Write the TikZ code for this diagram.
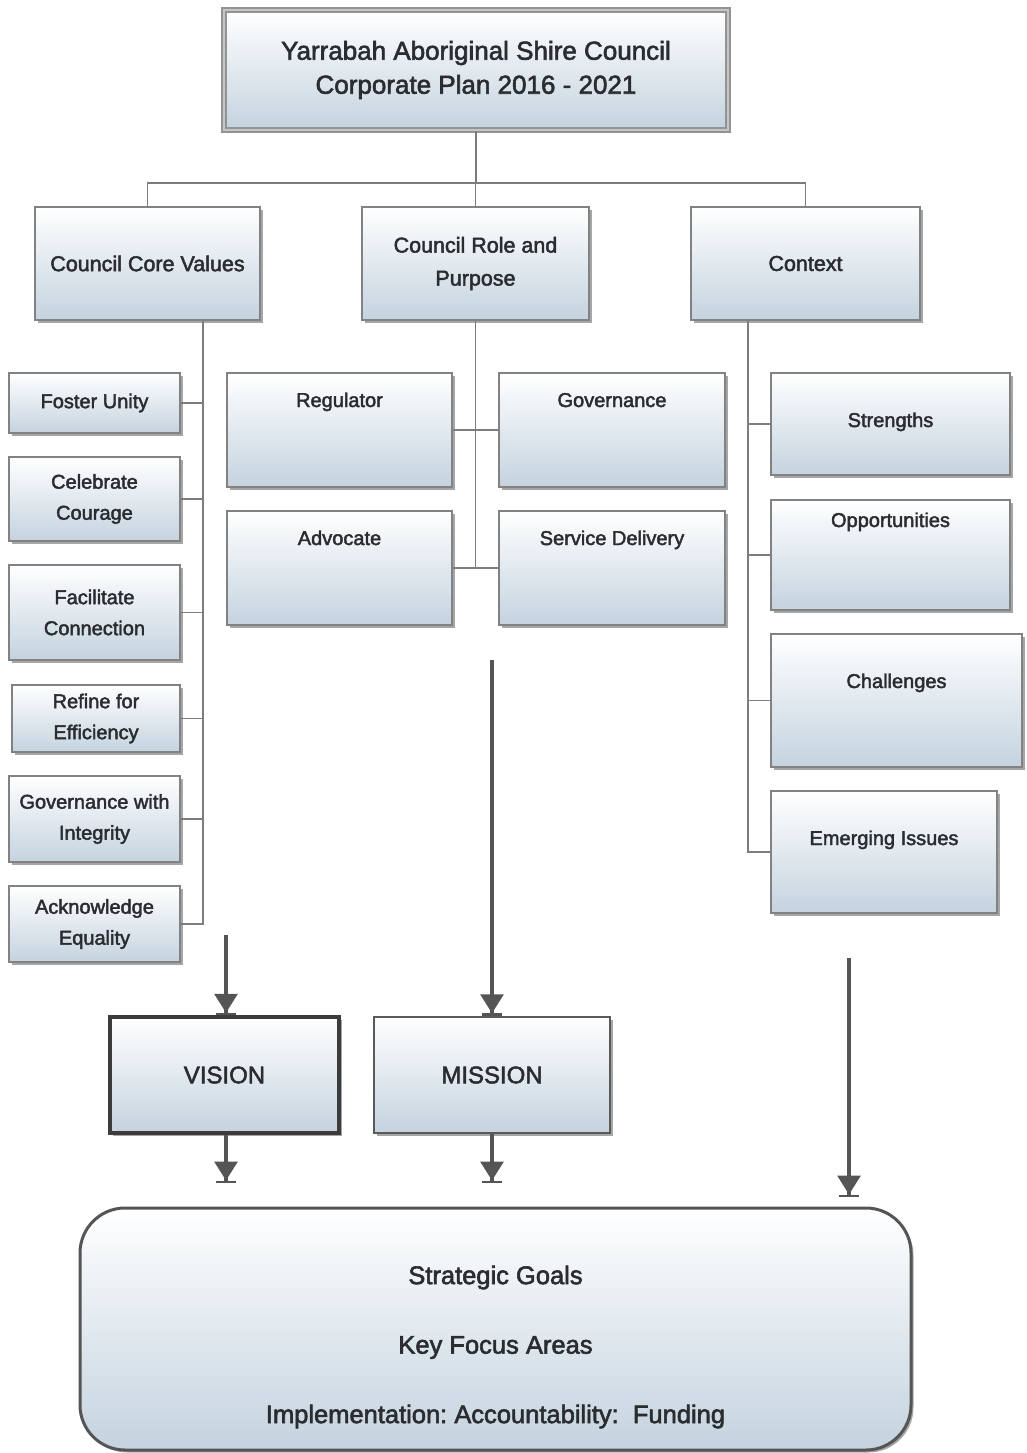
\documentclass[tikz,border=0pt]{standalone}
\usepackage{fontspec}
\setmainfont{Liberation Sans}[FakeBold=2.2]
\usetikzlibrary{arrows.meta,shadows}
\definecolor{boxbot}{RGB}{196,211,223}
\definecolor{txt}{RGB}{42,44,48}
\definecolor{lin}{RGB}{125,125,125}
\definecolor{bord}{RGB}{130,130,130}
\definecolor{arrc}{RGB}{85,85,85}
\frenchspacing
\begin{document}
\begin{tikzpicture}[x=1pt,y=-1pt,
  box/.style={draw=bord, line width=1.6pt, top color=white, bottom color=boxbot,
    text=txt, align=center, inner sep=0pt,
    drop shadow={shadow xshift=2.5pt, shadow yshift=-2.5pt, opacity=0.35, fill=black}},
  topt/.style 2 args={text height=#1pt, text depth=#2pt},
  fa/.style={font=\fontsize{26}{34}\selectfont},
  fb/.style={font=\fontsize{21.5}{33}\selectfont},
  fc/.style={font=\fontsize{20}{31}\selectfont},
  fd/.style={font=\fontsize{24}{30}\selectfont},
  conn/.style={draw=lin, line width=1.5pt},
  arrow/.style={draw=arrc, line width=3.2pt,
    -{Triangle[length=19pt,width=23pt]Bar[width=20pt,line width=2.5pt]}},
]
\useasboundingbox (0,0) rectangle (1027,1453);

% title
\node[box, fa, minimum width=504pt, minimum height=120pt, draw=gray!85, line width=1.6pt,
      double=gray!45, double distance=2.5pt] (top) at (476,70)
  {Yarrabah Aboriginal Shire Council\\Corporate Plan 2016 - 2021};

% level 2
\node[box, fb, minimum width=225pt, minimum height=113pt] (cv) at (147.5,263.5) {Council Core Values};
\node[box, fb, minimum width=227pt, minimum height=113pt] (role) at (475.5,263.5) {Council Role and\\Purpose};
\node[box, fb, minimum width=229pt, minimum height=113pt] (ctx) at (805.5,263.5) {Context};

% core values
\node[box, fc, minimum width=171pt, minimum height=60pt] (fu) at (94.5,403) {Foster Unity};
\node[box, fc, minimum width=171pt, minimum height=84pt] (cc) at (94.5,499) {Celebrate\\Courage};
\node[box, fc, minimum width=171pt, minimum height=95pt] (fcn) at (94.5,612.5) {Facilitate\\Connection};
\node[box, fc, minimum width=168pt, minimum height=67pt] (re) at (96,718.5) {Refine for\\Efficiency};
\node[box, fc, minimum width=171pt, minimum height=86pt] (gi) at (94.5,819) {Governance with\\Integrity};
\node[box, fc, minimum width=171pt, minimum height=76pt] (ae) at (94.5,924) {Acknowledge\\Equality};

% role
\node[box, fc, topt={34}{80}, minimum width=225pt, minimum height=114pt] (reg) at (339.5,430) {Regulator};
\node[box, fc, topt={34}{80}, minimum width=226pt, minimum height=114pt] (gov) at (612,430) {Governance};
\node[box, fc, topt={34}{80}, minimum width=225pt, minimum height=114pt] (adv) at (339.5,568) {Advocate};
\node[box, fc, topt={34}{80}, minimum width=226pt, minimum height=114pt] (sd) at (612,568) {Service Delivery};

% context
\node[box, fc, topt={54}{48}, minimum width=239pt, minimum height=102pt] (st) at (890.5,424) {Strengths};
\node[box, fc, topt={27}{83}, minimum width=239pt, minimum height=110pt] (op) at (890.5,555) {Opportunities};
\node[box, fc, topt={54}{79}, minimum width=251pt, minimum height=133pt] (ch) at (896.5,700.5) {Challenges};
\node[box, fc, topt={54}{68}, minimum width=226pt, minimum height=122pt] (ei) at (884,852) {Emerging Issues};

% vision / mission
\node[box, fd, minimum width=229pt, minimum height=116pt, draw={rgb,255:red,60;green,60;blue,60}, line width=3.5pt] (vision) at (224.5,1075) {VISION};
\node[box, fd, minimum width=236pt, minimum height=116pt, draw={rgb,255:red,90;green,90;blue,90}, line width=2.5pt] (mission) at (492,1075) {MISSION};

% goals
\node[box, minimum width=831pt, minimum height=242pt, rounded corners=45pt,
      draw={rgb,255:red,85;green,85;blue,85}, line width=3pt] (goals) at (495.5,1329) {};
\node[text=txt, align=center, inner sep=0pt, font=\fontsize{25.5}{69.5}\selectfont] (goalstext) at ([yshift=-18pt]goals.center)
  {Strategic Goals\\Key Focus Areas\\Implementation: Accountability:\ \ Funding};

% tree connectors
\coordinate (hb) at (475,183);
\draw[conn] (top.south) -- (top.south |- hb);
\draw[conn] (cv.north) |- (hb) -| (ctx.north);
\draw[conn] (role.north) -- (role.north |- hb);

\coordinate (lx) at (203,0);
\draw[conn] (cv.south -| lx) -- (ae.east -| lx) -- (ae.east);
\foreach \n in {fu,cc,fcn,re,gi} \draw[conn] (\n.east) -- (\n.east -| lx);

\draw[conn] (role.south) -- (role.south |- adv.east);
\draw[conn] (reg.east) -- (gov.west);
\draw[conn] (adv.east) -- (sd.west);

\coordinate (rx) at (748,0);
\draw[conn] (ctx.south -| rx) -- (ei.west -| rx) -- (ei.west);
\foreach \n in {st,op,ch} \draw[conn] (\n.west) -- (\n.west -| rx);

% arrows
\coordinate (a1) at (226,935);
\draw[arrow] (a1) -- (a1 |- vision.north);
\coordinate (a2) at (492,660);
\draw[arrow] (a2) -- (mission.north);
\coordinate (a3s) at (849,958);
\coordinate (a3e) at (849,1197);
\draw[arrow] (a3s) -- (a3e);
\coordinate (a4) at (226,1183);
\draw[arrow] (vision.south -| a4) -- (a4);
\coordinate (a5) at (492,1183);
\draw[arrow] (mission.south) -- (a5);
\end{tikzpicture}
\end{document}
